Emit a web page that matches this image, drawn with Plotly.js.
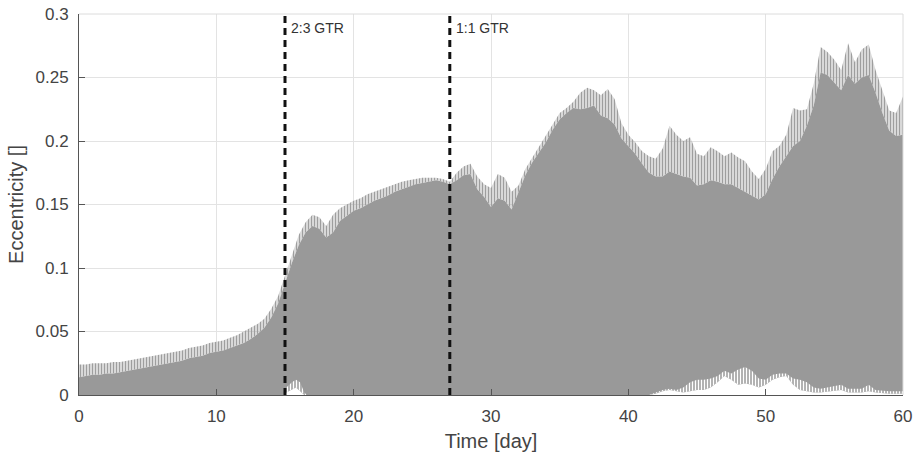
<!DOCTYPE html>
<html>
<head>
<meta charset="utf-8">
<script src="https://cdn.plot.ly/plotly-3.0.1.min.js"></script>
<style>html,body{margin:0;padding:0;background:#fff;}#chart{width:918px;height:457px;}</style>
</head>
<body>
<div id="chart"></div>
<script>
// Time samples (days) for the upper envelopes
const time = [0,0.5,1,1.5,2,2.5,3,3.5,4,4.5,5,5.5,6,6.5,7,7.5,8,8.5,9,9.5,10,10.5,11,11.5,12,12.5,13,13.5,14,14.5,15,15.5,16,16.5,17,17.5,18,18.5,19,19.5,20,20.5,21,21.5,22,22.5,23,23.5,24,24.5,25,25.5,26,26.5,27,27.5,28,28.5,29,29.5,30,30.5,31,31.5,32,32.5,33,33.5,34,34.5,35,35.5,36,36.5,37,37.5,38,38.5,39,39.5,40,40.5,41,41.5,42,42.5,43,43.5,44,44.5,45,45.5,46,46.5,47,47.5,48,48.5,49,49.5,50,50.5,51,51.5,52,52.5,53,53.5,54,54.5,55,55.5,56,56.5,57,57.5,58,58.5,59,59.5,60];
// Spike tops of the oscillating eccentricity
const eccPeak = [0.024,0.024,0.025,0.025,0.025,0.026,0.026,0.027,0.028,0.029,0.030,0.031,0.032,0.033,0.034,0.035,0.037,0.038,0.039,0.041,0.042,0.043,0.045,0.047,0.050,0.053,0.056,0.060,0.068,0.078,0.094,0.110,0.126,0.136,0.142,0.140,0.133,0.142,0.147,0.150,0.153,0.155,0.158,0.160,0.162,0.164,0.166,0.168,0.169,0.170,0.171,0.171,0.171,0.170,0.168,0.175,0.180,0.182,0.172,0.166,0.163,0.174,0.171,0.160,0.165,0.178,0.187,0.196,0.204,0.213,0.222,0.226,0.231,0.238,0.242,0.240,0.236,0.241,0.233,0.214,0.205,0.199,0.192,0.188,0.186,0.194,0.212,0.205,0.200,0.203,0.190,0.188,0.195,0.192,0.188,0.191,0.187,0.184,0.176,0.170,0.178,0.192,0.196,0.205,0.226,0.224,0.225,0.245,0.274,0.270,0.264,0.256,0.277,0.262,0.272,0.276,0.256,0.240,0.224,0.222,0.235];
// Solid (dense) upper level of the oscillation
const eccBody = [0.014,0.015,0.016,0.016,0.017,0.017,0.018,0.019,0.020,0.021,0.022,0.023,0.024,0.025,0.026,0.027,0.029,0.030,0.031,0.033,0.034,0.035,0.037,0.039,0.041,0.044,0.048,0.053,0.061,0.072,0.088,0.104,0.118,0.128,0.133,0.131,0.124,0.128,0.137,0.141,0.145,0.147,0.150,0.153,0.155,0.157,0.160,0.162,0.164,0.166,0.167,0.168,0.169,0.168,0.166,0.169,0.173,0.174,0.162,0.156,0.148,0.155,0.153,0.146,0.160,0.173,0.183,0.191,0.199,0.209,0.217,0.222,0.226,0.225,0.226,0.228,0.220,0.218,0.213,0.202,0.196,0.190,0.182,0.175,0.172,0.172,0.176,0.174,0.172,0.171,0.165,0.166,0.169,0.168,0.166,0.166,0.163,0.160,0.157,0.154,0.158,0.170,0.180,0.188,0.196,0.200,0.212,0.228,0.254,0.252,0.246,0.240,0.252,0.245,0.250,0.252,0.238,0.222,0.208,0.204,0.205];
// Lower envelope (minimum eccentricity) samples
const timeLow = [0,14.9,15.1,15.5,15.8,16.1,16.4,16.6,41.5,42,42.5,43,43.5,44,44.5,45,45.5,46,46.5,47,47.5,48,48.5,49,49.5,50,50.5,51,51.5,52,52.5,53,53.5,54,55,55.5,56,57,57.5,58,59,60];
const eccMinSolid = [0,0,0.002,0.004,0.006,0.003,0,0,0,0.001,0.003,0.004,0.003,0.002,0.003,0.004,0.004,0.006,0.010,0.015,0.012,0.008,0.009,0.008,0.006,0.008,0.012,0.014,0.015,0.008,0.004,0.003,0.002,0.002,0.003,0.004,0.002,0.002,0.003,0.002,0.001,0.001];
const eccMinSpike = [0,0,0.006,0.010,0.012,0.010,0.002,0,0,0.002,0.004,0.005,0.004,0.006,0.010,0.012,0.012,0.013,0.015,0.019,0.017,0.020,0.022,0.019,0.013,0.012,0.016,0.017,0.017,0.013,0.012,0.010,0.006,0.005,0.007,0.008,0.005,0.005,0.008,0.004,0.003,0.003];
// Resonance markers
const gtrTimes = [15, 27];
const gtrLabels = ['2:3 GTR', '1:1 GTR'];

const gray = '#999999';
const traces = [
  {x: time, y: eccBody, type: 'scatter', mode: 'lines', line: {width: 0, color: gray}, fill: 'tozeroy', fillcolor: gray, hoverinfo: 'skip'},
  {x: time, y: eccPeak, type: 'scatter', mode: 'lines', line: {width: 0, color: gray}, fill: 'tonexty', fillcolor: 'rgba(0,0,0,0)',
   fillpattern: {shape: '|', size: 3, solidity: 0.6, fgcolor: '#9e9e9e', fillmode: 'replace'}, hoverinfo: 'skip'},
  {x: timeLow, y: eccMinSolid, type: 'scatter', mode: 'lines', line: {width: 0, color: '#fff'}, fill: 'tozeroy', fillcolor: '#ffffff', hoverinfo: 'skip'},
  {x: timeLow, y: eccMinSpike, type: 'scatter', mode: 'lines', line: {width: 0, color: '#fff'}, fill: 'tonexty', fillcolor: 'rgba(0,0,0,0)',
   fillpattern: {shape: '|', size: 3, solidity: 0.5, fgcolor: '#ffffff', fillmode: 'replace'}, hoverinfo: 'skip'}
];
gtrTimes.forEach(function (t) {
  traces.push({x: [t, t], y: [0, 0.3], type: 'scatter', mode: 'lines', line: {color: '#111', width: 3, dash: '7px,5px'}, hoverinfo: 'skip'});
});

const annotations = gtrTimes.map(function (t, i) {
  return {x: t, y: 0.3, xref: 'x', yref: 'y', text: gtrLabels[i], showarrow: false, xanchor: 'left', yanchor: 'top',
          xshift: 4, yshift: -4, font: {family: 'Liberation Sans, Arial, sans-serif', size: 14, color: '#333'}};
});

const tickFont = {family: 'Liberation Sans, Arial, sans-serif', size: 17, color: '#444'};
const layout = {
  width: 918, height: 457,
  margin: {l: 79, r: 15, t: 14, b: 62},
  paper_bgcolor: '#fff', plot_bgcolor: '#fff',
  showlegend: false,
  xaxis: {range: [0, 60], dtick: 10, tick0: 0, showgrid: true, gridcolor: '#e3e3e3', gridwidth: 1,
          zeroline: false, showline: true, linecolor: '#555', linewidth: 1, ticks: 'inside', ticklen: 6, tickcolor: '#555',
          tickfont: tickFont, ticklabelstandoff: 6,
          title: {text: 'Time [day]', font: {family: 'Liberation Sans, Arial, sans-serif', size: 20, color: '#444'}, standoff: 8}},
  yaxis: {range: [0, 0.3], dtick: 0.05, tick0: 0, showgrid: true, gridcolor: '#e3e3e3', gridwidth: 1,
          zeroline: false, showline: true, linecolor: '#555', linewidth: 1, ticks: 'inside', ticklen: 6, tickcolor: '#555',
          tickfont: tickFont, ticklabelstandoff: 6,
          title: {text: 'Eccentricity []', font: {family: 'Liberation Sans, Arial, sans-serif', size: 20, color: '#444'}, standoff: 6}},
  shapes: [
    {type: 'line', xref: 'paper', yref: 'paper', x0: 0, x1: 1, y0: 1, y1: 1, line: {color: '#dcdcdc', width: 1}},
    {type: 'line', xref: 'paper', yref: 'paper', x0: 1, x1: 1, y0: 0, y1: 1, line: {color: '#dcdcdc', width: 1}}
  ],
  annotations: annotations
};
Plotly.newPlot('chart', traces, layout, {staticPlot: true, displayModeBar: false});
</script>
</body>
</html>
